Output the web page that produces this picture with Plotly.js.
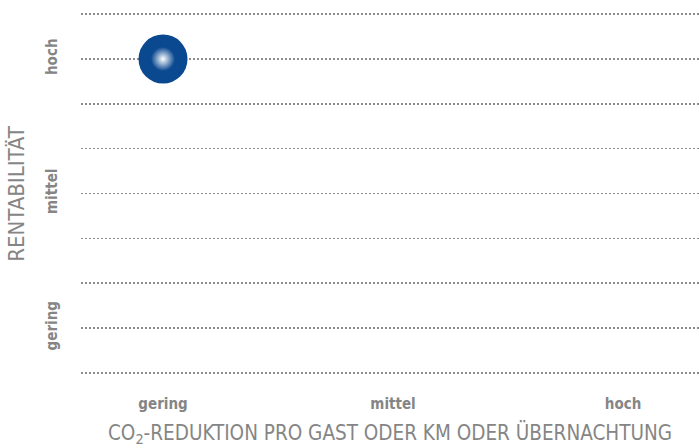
<!DOCTYPE html>
<html>
<head>
<meta charset="utf-8">
<script src="https://cdn.plot.ly/plotly-3.0.1.min.js"></script>
<style>html,body{margin:0;padding:0;background:#fff;}#chart{width:699px;height:448px;}</style>
</head>
<body>
<div id="chart"></div>
<script>
// Data
const levels = ['gering', 'mittel', 'hoch'];
const pointX = ['gering'];
const pointY = ['hoch'];
const xTitle = 'CO<sub>2</sub>-REDUKTION PRO GAST ODER KM ODER ÜBERNACHTUNG';
const yTitle = 'RENTABILITÄT';

const FONT = '"DejaVu Sans Condensed", "Liberation Sans Narrow", Arial, sans-serif';
const BLUE = '#0a4890';
const GRAY = '#858585';

const xIdx = pointX.map(v => levels.indexOf(v));
const yIdx = pointY.map(v => levels.indexOf(v));
const ticks = levels.map((_, i) => i);
const tickLabels = levels.map(t => '<b>' + t + '</b>');

const traces = [
  {x: xIdx, y: yIdx, type: 'scatter', mode: 'markers', hoverinfo: 'skip',
   marker: {size: 49, color: BLUE, line: {width: 0}}},
  {x: xIdx, y: yIdx, type: 'scatter', mode: 'markers', hoverinfo: 'skip',
   marker: {size: 24, color: BLUE, line: {width: 0},
            gradient: {type: 'radial', color: '#ffffff'}}}
];

const gridStyle = {gridcolor: '#8c8c8c', gridwidth: 1.5, griddash: '1.5px,2.5px'};

const layout = {
  width: 699, height: 448,
  margin: {l: 81, r: 0, t: 4, b: 64},
  paper_bgcolor: '#fff', plot_bgcolor: '#fff',
  showlegend: false,
  font: {family: FONT, color: GRAY},
  xaxis: {
    range: [-0.3565, 2.33],
    tickvals: ticks,
    ticktext: tickLabels,
    tickfont: {family: FONT, size: 15, color: GRAY},
    showgrid: false, zeroline: false, showline: false, ticks: '',
    ticklabelstandoff: 9,
    title: {text: xTitle, font: {family: FONT, size: 20.5, color: GRAY}, standoff: 13}
  },
  yaxis: Object.assign({
    range: [-0.4164, 2.4089],
    tickvals: ticks,
    ticktext: tickLabels,
    tickangle: -90,
    tickfont: {family: FONT, size: 15, color: GRAY},
    showgrid: true,
    minor: Object.assign({tick0: 0, dtick: 1 / 3, showgrid: true, ticks: ''}, gridStyle),
    zeroline: false, showline: false, ticks: '',
    ticklabelstandoff: 20,
    title: {text: yTitle, font: {family: FONT, size: 22, color: GRAY}, standoff: 12}
  }, gridStyle)
};

Plotly.newPlot('chart', traces, layout, {staticPlot: true, displayModeBar: false});
</script>
</body>
</html>
